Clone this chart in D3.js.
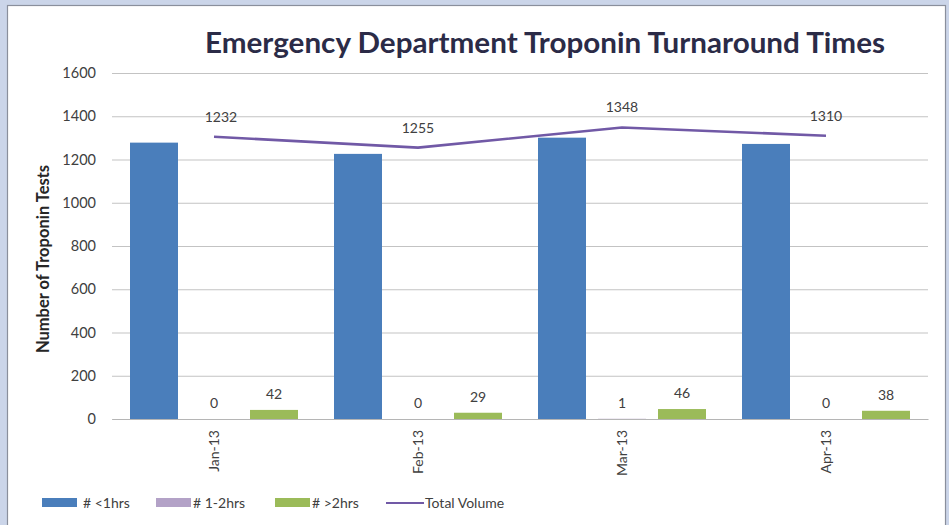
<!DOCTYPE html>
<html><head><meta charset="utf-8">
<script src="https://cdn.jsdelivr.net/npm/d3@7"></script>
<style>
html,body{margin:0;padding:0;background:#cbd5e9;}
svg{display:block;font-family:Lato,"Open Sans",sans-serif;}
</style></head>
<body>
<svg id="chart" width="949" height="525"></svg>
<script>
const title = "Emergency Department Troponin Turnaround Times";
const yTitle = "Number of Troponin Tests";
const categories = ["Jan-13","Feb-13","Mar-13","Apr-13"];
const seriesNames = ["# <1hrs","# 1-2hrs","# >2hrs"];
const lessThan1h = [1278,1226,1301,1272];
const oneTo2h = [0,0,1,0];
const moreThan2h = [42,29,46,38];
const labels1to2 = ["0","0","1","0"];
const labelsOver2 = ["42","29","46","38"];
const totalVolume = [1305,1255,1348,1310];
const totalLabels = ["1232","1255","1348","1310"];
const yTicks = [0,200,400,600,800,1000,1200,1400,1600];
const lineName = "Total Volume";
const colors = ["#4a7ebb","#b3a2c7","#9bbb59"];
const lineColor = "#7159a6";

const svg = d3.select("#chart");
// panel
svg.append("rect").attr("x",7.5).attr("y",5.5).attr("width",938).attr("height",530)
  .attr("fill","#ffffff").attr("stroke","#8a8f9c").attr("stroke-width",1.2);

const mLeft = 112, mRight = 928, mTop = 73, mBottom = 419;
const y = d3.scaleLinear().domain([0,1600]).range([mBottom, mTop]);
const x0 = d3.scaleBand().domain(categories).range([mLeft, mRight]).padding(0);
const x1 = d3.scaleBand().domain(seriesNames).range([18, x0.bandwidth()-18]).paddingInner(0.2).paddingOuter(0);

// gridlines
const yAxis = d3.axisLeft(y).tickValues(yTicks).tickSize(-(mRight-mLeft)).tickPadding(16).tickFormat(d3.format("d"));
const gy = svg.append("g").attr("transform",`translate(${mLeft},0)`).call(yAxis);
gy.select(".domain").remove();
gy.selectAll(".tick line").attr("stroke","#c3c3c3").attr("stroke-width",1.2);
gy.selectAll(".tick text").attr("fill","#404040").style("font-size","14.5px").style("font-family","Lato, sans-serif");

// bars
const seriesData = [lessThan1h, oneTo2h, moreThan2h];
seriesData.forEach((vals, si) => {
  svg.append("g").selectAll("rect").data(vals).join("rect")
    .attr("x",(d,i)=>x0(categories[i]) + x1(seriesNames[si]))
    .attr("y",d=>y(d))
    .attr("width",x1.bandwidth())
    .attr("height",d=>Math.max(0, y(0)-y(d)))
    .attr("fill",colors[si]);
});

// x axis line
const xAxis = d3.axisBottom(x0).tickSize(0).tickPadding(0);
const gx = svg.append("g").attr("transform",`translate(0,${mBottom})`).call(xAxis);
gx.select(".domain").attr("stroke","#b5b5b5").attr("stroke-width",1.2);
gx.selectAll(".tick text")
  .attr("transform","rotate(-90)")
  .attr("x",-11).attr("y",0).attr("dy","0.35em")
  .style("text-anchor","end")
  .attr("fill","#404040").style("font-size","14px").style("font-family","Lato, sans-serif");

// bar labels
const lblStyle = sel => sel.attr("fill","#404040").style("font-size","14px").attr("text-anchor","middle");
svg.append("g").selectAll("text").data(oneTo2h).join("text")
  .attr("x",(d,i)=>x0(categories[i]) + x1(seriesNames[1]) + x1.bandwidth()/2)
  .attr("y",d=>y(d)-11).text((d,i)=>labels1to2[i]).call(lblStyle);
svg.append("g").selectAll("text").data(moreThan2h).join("text")
  .attr("x",(d,i)=>x0(categories[i]) + x1(seriesNames[2]) + x1.bandwidth()/2)
  .attr("y",d=>y(d)-11).text((d,i)=>labelsOver2[i]).call(lblStyle);

// total line
const line = d3.line().x((d,i)=>x0(categories[i]) + x0.bandwidth()/2).y(d=>y(d));
svg.append("path").datum(totalVolume).attr("d",line)
  .attr("fill","none").attr("stroke",lineColor).attr("stroke-width",2.6).attr("stroke-linejoin","round");
svg.append("g").selectAll("text").data(totalVolume).join("text")
  .attr("x",(d,i)=>x0(categories[i]) + x0.bandwidth()/2 + (i===0?7:0))
  .attr("y",d=>y(d)-15).text((d,i)=>totalLabels[i]).call(lblStyle);

// title
svg.append("text").attr("x",545).attr("y",53).attr("text-anchor","middle")
  .attr("fill","#2b2b47").style("font-size","28px").style("font-weight","bold")
  .attr("textLength",680).attr("lengthAdjust","spacingAndGlyphs").text(title);

// y title
svg.append("text").attr("transform","translate(49,259) rotate(-90)").attr("text-anchor","middle")
  .attr("fill","#262626").style("font-size","16.5px").style("font-weight","bold").text(yTitle);

// legend
const legend = svg.append("g");
const legItems = [
  {name: seriesNames[0], color: colors[0], type: "rect", sx: 42, tx: 83},
  {name: seriesNames[1], color: colors[1], type: "rect", sx: 156, tx: 193},
  {name: seriesNames[2], color: colors[2], type: "rect", sx: 275, tx: 312},
  {name: lineName, color: lineColor, type: "line", sx: 386, tx: 425}
];
legItems.forEach(it => {
  if (it.type === "rect") {
    legend.append("rect").attr("x",it.sx).attr("y",498).attr("width",35).attr("height",9).attr("fill",it.color);
  } else {
    legend.append("line").attr("x1",it.sx).attr("x2",it.sx+38).attr("y1",503).attr("y2",503)
      .attr("stroke",it.color).attr("stroke-width",2);
  }
  legend.append("text").attr("x",it.tx).attr("y",503).attr("dy","0.35em")
    .attr("fill","#404040").style("font-size","14px").text(it.name);
});
</script>
</body></html>
